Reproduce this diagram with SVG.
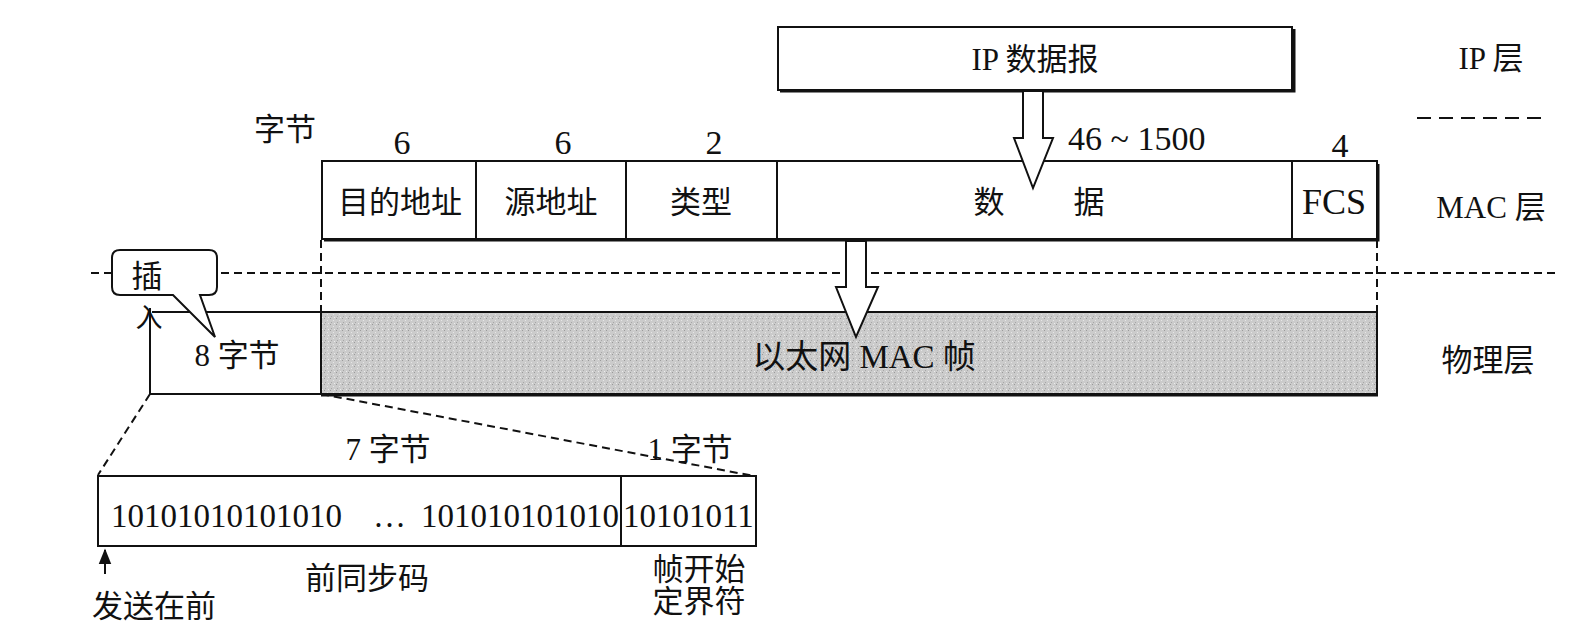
<svg xmlns="http://www.w3.org/2000/svg" width="1585" height="639" viewBox="0 0 1585 639">
<style>
  .t{font-family:"Liberation Serif","Noto Sans CJK SC",serif;font-size:31px;fill:#111;text-anchor:middle;dominant-baseline:central}
  .n{font-family:"Liberation Serif","Noto Sans CJK SC",serif;font-size:33px;fill:#111;dominant-baseline:central}
  .box{fill:#fff;stroke:#111;stroke-width:2}
  .ln{fill:none;stroke:#111;stroke-width:2}
  .sh{fill:none;stroke:#111;stroke-width:3}
  .dash{fill:none;stroke:#111;stroke-width:2;stroke-dasharray:8 5}
  .dash2{fill:none;stroke:#111;stroke-width:2;stroke-dasharray:14 8}
  .hollow{fill:#fff;stroke:#111;stroke-width:2;stroke-linejoin:miter}
</style>
<defs>
  <marker id="ah" viewBox="0 0 10 10" refX="9" refY="5" markerWidth="8" markerHeight="8" orient="auto">
    <path d="M0,1 L10,5 L0,9 Z" fill="#111"/>
  </marker>
  <pattern id="grain" width="6" height="6" patternUnits="userSpaceOnUse">
    <rect width="6" height="6" fill="#cbcbcb"/>
    <rect x="0" y="0" width="1" height="1" fill="#9a9a9a"/>
    <rect x="3" y="2" width="1" height="1" fill="#e6e6e6"/>
    <rect x="1" y="4" width="1" height="1" fill="#a6a6a6"/>
    <rect x="4" y="5" width="1" height="1" fill="#ececec"/>
  </pattern>
</defs>

<!-- layer separators -->
<g id="layer-lines">
  <line class="dash2" x1="1417" y1="118" x2="1548" y2="118"/>
  <line class="dash" x1="91" y1="273" x2="1557" y2="273"/>
</g>

<!-- layer labels -->
<g id="layer-labels">
  <text class="t" x="1491" y="58">IP 层</text>
  <text class="t" x="1491" y="207">MAC 层</text>
  <text class="t" x="1488" y="360">物理层</text>
</g>

<g id="ip-datagram">
  <rect class="box" x="778" y="27" width="514" height="63"/>
  <polyline class="sh" points="780,91 1294,91 1294,29"/>
  <text class="t" x="1035" y="59">IP 数据报</text>
</g>

<g id="byte-counts">
  <text class="t" x="285" y="129">字节</text>
  <text class="n" x="402" y="142" text-anchor="middle" style="font-size:34px">6</text>
  <text class="n" x="563" y="142" text-anchor="middle" style="font-size:34px">6</text>
  <text class="n" x="714" y="142" text-anchor="middle" style="font-size:34px">2</text>
  <text class="n" x="1068" y="138" style="font-size:34px">46 ~ 1500</text>
  <text class="n" x="1340" y="145" text-anchor="middle" style="font-size:34px">4</text>
</g>

<g id="mac-frame">
  <rect class="box" x="322" y="161" width="1055" height="78"/>
  <polyline class="sh" points="324,240 1378,240 1378,164"/>
  <line class="ln" x1="476" y1="161" x2="476" y2="239"/>
  <line class="ln" x1="626" y1="161" x2="626" y2="239"/>
  <line class="ln" x1="777" y1="161" x2="777" y2="239"/>
  <line class="ln" x1="1292" y1="161" x2="1292" y2="239"/>
  <text class="t" x="400" y="202">目的地址</text>
  <text class="t" x="551" y="202">源地址</text>
  <text class="t" x="701" y="202">类型</text>
  <text class="t" x="989" y="202">数</text>
  <text class="t" x="1089" y="202">据</text>
  <text class="t" x="1334" y="202" style="font-size:36px">FCS</text>
</g>

<g id="connectors">
  <line class="dash" x1="321" y1="240" x2="321" y2="312"/>
  <line class="dash" x1="1377" y1="240" x2="1377" y2="312"/>
  <line class="dash" x1="150" y1="394" x2="98" y2="475"/>
  <line class="dash" x1="321" y1="394" x2="754" y2="476"/>
  <line class="ln" x1="105" y1="574" x2="105" y2="550" marker-end="url(#ah)"/>
</g>

<g id="physical-frame">
  <rect x="321" y="312" width="1056" height="82" fill="url(#grain)" stroke="#111" stroke-width="2"/>
  <line class="sh" x1="321" y1="395" x2="1378" y2="395"/>
  <text class="t" x="864" y="357" style="font-size:33px">以太网 MAC 帧</text>
</g>

<g id="preamble-field">
  <polyline class="ln" points="150,308 150,394 321,394"/>
  <line class="ln" x1="152" y1="312" x2="321" y2="312"/>
  <text class="t" x="237" y="355">8 字节</text>
</g>

<g id="insert-bubble">
  <path class="box" d="M120,250 H209 Q217,250 217,258 V287 Q217,295 209,295 H200 L215,337 L173,295 H120 Q112,295 112,287 V258 Q112,250 120,250 Z"/>
  <text class="t" x="147" y="276">插</text>
  <text class="t" x="149" y="318" style="font-size:27px">入</text>
</g>

<g id="arrow-ip-to-mac">
  <polygon class="hollow" points="1023,91 1043,91 1043,138 1053,138 1033,188 1014,138 1023,138"/>
</g>

<g id="arrow-mac-to-phy">
  <polygon class="hollow" points="846,241 866,241 866,287 878,287 856,337 836,287 846,287"/>
</g>

<g id="preamble-detail">
  <text class="t" x="388" y="449">7 字节</text>
  <text class="t" x="690" y="449">1 字节</text>
  <rect class="box" x="98" y="476" width="658" height="70"/>
  <line class="ln" x1="621" y1="476" x2="621" y2="546"/>
  <text class="n" x="111" y="516">10101010101010</text>
  <text class="n" x="373" y="516">…</text>
  <text class="n" x="421" y="516">101010101010</text>
  <text class="n" x="623" y="516">10101011</text>
  <text class="t" x="367" y="578">前同步码</text>
  <text class="t" x="699" y="569">帧开始</text>
  <text class="t" x="699" y="601">定界符</text>
  <text class="t" x="154" y="606">发送在前</text>
</g>
</svg>
